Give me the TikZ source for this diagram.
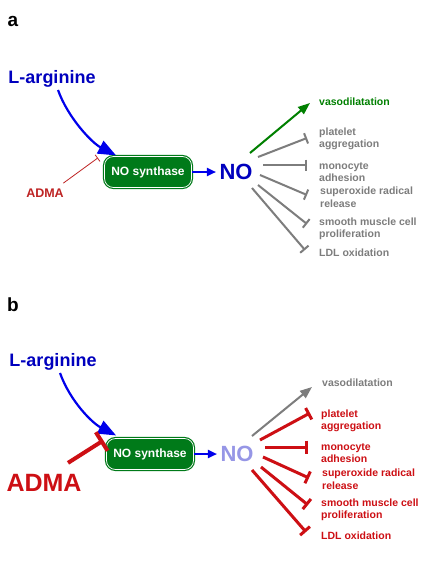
\documentclass[tikz,border=0pt]{standalone}
\usepackage{fontspec}
\setmainfont{Liberation Sans}
\usetikzlibrary{arrows.meta}

\definecolor{argblue}{RGB}{0,0,190}
\definecolor{arrblue}{RGB}{0,0,235}
\definecolor{nosgreen}{RGB}{0,122,25}
\definecolor{vasogreen}{RGB}{0,128,0}
\definecolor{effgray}{RGB}{125,125,125}
\definecolor{admared}{RGB}{190,35,35}
\definecolor{inhred}{RGB}{205,15,20}
\definecolor{nolilac}{RGB}{150,150,230}

\tikzset{
  panel/.style={font=\bfseries\fontsize{19}{21}\selectfont},
  substrate/.style={font=\bfseries\fontsize{18}{20}\selectfont, text=argblue},
  enzyme/.style={draw=nosgreen, double=white, double distance=0.7pt, line width=1.2pt,
    fill=nosgreen, rounded corners=9pt, minimum width=87pt, minimum height=31pt,
    text=white, font=\bfseries\fontsize{12}{14}\selectfont},
  product/.style={font=\bfseries\fontsize{22}{24}\selectfont},
  effect/.style={anchor=west, align=left, inner sep=0pt, font=\bfseries\fontsize{10.5}{12.5}\selectfont},
  feed/.style={draw=arrblue, line width=2.2pt, shorten >=1pt, -{Triangle[length=18pt,width=14pt]}},
  yield/.style={draw=arrblue, line width=2pt, -{Triangle[length=9pt,width=8pt]}},
  promote/.style={line width=2pt, -{Triangle[length=12pt,width=9pt]}},
  blockA/.style={draw=effgray, line width=2pt, -{Bar[width=11pt,line width=2pt]}},
  blockB/.style={draw=inhred, line width=3pt, -{Bar[width=13pt,line width=3pt]}}
}

\begin{document}
\begin{tikzpicture}[x=1pt, y=-1pt]
  \useasboundingbox[fill=white] (0,0) rectangle (432,579);

  % Panel a
  \node[panel] (labA) at (13,21) {a};
  \node[substrate] (largA) at (52,79) {L-arginine};
  \node[enzyme] (nosA) at (148,172) {NO synthase};
  \node[product, text=argblue] (noA) at (236,172) {NO};
  \node[font=\bfseries\fontsize{12.5}{14}\selectfont, text=admared] (admaA) at (45,193) {ADMA};

  \draw[feed] (largA.south) ++(6,-1) .. controls +(10,28) and +(-25,-13) .. ([xshift=-31pt]nosA.north);
  \draw[yield] (nosA.east) -- (noA.west);
  \draw[draw=admared, line width=0.8pt, -{Bar[width=8pt,line width=0.8pt]}]
    (admaA.north east) ++(-4,-2) -- ([xshift=-6pt,yshift=-2pt]nosA.north west);

  % Panel a effects
  \node[effect, text=vasogreen] (vasoA) at (319,102) {vasodilatation};
  \node[effect, text=effgray] (platA) at (319,139) {platelet\\aggregation};
  \node[effect, text=effgray] (monoA) at (319,172) {monocyte\\adhesion};
  \node[effect, text=effgray] (supA) at (320,197) {superoxide radical\\release};
  \node[effect, text=effgray] (smA) at (319,229) {smooth muscle cell\\proliferation};
  \node[effect, text=effgray] (ldlA) at (319,253) {LDL oxidation};

  \draw[promote, draw=vasogreen] (noA.center) ++(14,-19) -- ([xshift=-9pt,yshift=-1pt]vasoA.west);
  \draw[blockA] (noA.center) ++(22,-15) -- ([xshift=-12pt,yshift=1pt]platA.west);
  \draw[blockA] (noA.center) ++(27,-7) -- ([xshift=-12pt,yshift=7pt]monoA.west);
  \draw[blockA] (noA.center) ++(24,3) -- ([xshift=-13pt,yshift=2pt]supA.west);
  \draw[blockA] (noA.center) ++(22,13) -- ([xshift=-12pt,yshift=5pt]smA.west);
  \draw[blockA] (noA.center) ++(16,16) -- ([xshift=-14pt,yshift=3pt]ldlA.west);

  % Panel b
  \node[panel] (labB) at (13,305) {b};
  \node[substrate] (largB) at (53,362) {L-arginine};
  \node[enzyme] (nosB) at (150,454) {NO synthase};
  \node[product, text=nolilac] (noB) at (237,454) {NO};
  \node[font=\bfseries\fontsize{25}{28}\selectfont, text=inhred] (admaB) at (44,483) {ADMA};

  \draw[feed] (largB.south) ++(7,-1) .. controls +(10,28) and +(-25,-13) .. ([xshift=-33pt,yshift=2pt]nosB.north);
  \draw[yield] (nosB.east) -- (noB.west);
  \draw[draw=inhred, line width=4pt, -{Bar[width=22pt,line width=4pt]}]
    (admaB.north east) ++(-17,-8) -- ([xshift=-2.5pt,yshift=-2.5pt]nosB.north west);

  % Panel b effects
  \node[effect, text=effgray] (vasoB) at (322,383) {vasodilatation};
  \node[effect, text=inhred] (platB) at (321,421) {platelet\\aggregation};
  \node[effect, text=inhred] (monoB) at (321,453) {monocyte\\adhesion};
  \node[effect, text=inhred] (supB) at (322,479) {superoxide radical\\release};
  \node[effect, text=inhred] (smB) at (321,510) {smooth muscle cell\\proliferation};
  \node[effect, text=inhred] (ldlB) at (321,536) {LDL oxidation};

  \draw[promote, draw=effgray] (noB.center) ++(15,-18) -- ([xshift=-10pt,yshift=-4pt]vasoB.west);
  \draw[blockB] (noB.center) ++(23,-14) -- ([xshift=-11pt,yshift=8pt]platB.west);
  \draw[blockB] (noB.center) ++(28,-7) -- ([xshift=-13pt,yshift=6pt]monoB.west);
  \draw[blockB] (noB.center) ++(26,3) -- ([xshift=-13pt,yshift=1pt]supB.west);
  \draw[blockB] (noB.center) ++(24,13) -- ([xshift=-13pt,yshift=5pt]smB.west);
  \draw[blockB] (noB.center) ++(15,16) -- ([xshift=-15pt,yshift=4pt]ldlB.west);

\end{tikzpicture}
\end{document}
